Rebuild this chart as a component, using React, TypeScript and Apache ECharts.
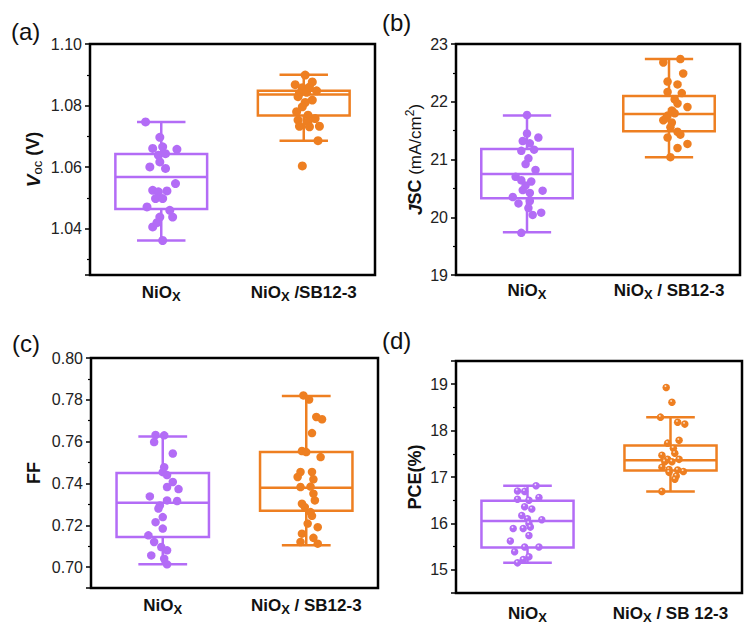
import React, { useEffect, useRef } from 'react';
import * as echarts from 'echarts';

const PURPLE = '#B36CF6';
const ORANGE = '#EE7F21';
const FONT = '"Liberation Sans", Arial, Helvetica, sans-serif';

// box stats: [min, Q1, median, Q3, max] per category (NiOx, NiOx/SB12-3)
const vocBox = [
  [1.0362, 1.0464, 1.0568, 1.0643, 1.0747],
  [1.0686, 1.0768, 1.0836, 1.0848, 1.09],
];
const jscBox = [
  [19.74, 20.33, 20.75, 21.18, 21.76],
  [21.04, 21.49, 21.79, 22.1, 22.74],
];
const ffBox = [
  [0.7013, 0.7144, 0.7308, 0.745, 0.7625],
  [0.7105, 0.727, 0.738, 0.755, 0.7818],
];
const pceBox = [
  [15.15, 15.48, 16.05, 16.49, 16.81],
  [16.69, 17.14, 17.36, 17.68, 18.29],
];

// individual devices (values) and horizontal jitter (category units)
const vocNiOx = [1.0747, 1.0697, 1.0661, 1.0666, 1.0658, 1.0639, 1.0644, 1.0601, 1.0596, 1.0617, 1.0547, 1.0525, 1.052, 1.0523, 1.0498, 1.0498, 1.0471, 1.046, 1.0438, 1.0438, 1.0406, 1.042, 1.0362];
const vocNiOxJit = [-0.11, -0.01, -0.06, 0.01, 0.11, -0.02, 0.03, -0.08, 0.03, -0.01, 0.1, -0.06, -0.02, 0.04, -0.04, 0.01, -0.1, 0.06, -0.01, 0.08, -0.06, -0.03, 0.01];
const vocSB = [1.0899, 1.0877, 1.0868, 1.0858, 1.0848, 1.084, 1.0843, 1.0829, 1.0818, 1.081, 1.0796, 1.078, 1.0769, 1.0758, 1.0753, 1.0747, 1.0733, 1.0731, 1.0733, 1.0686, 1.0604, 1.086];
const vocSBJit = [0.01, 0.06, -0.06, -0.01, 0.09, -0.03, 0.02, -0.04, 0.06, 0.01, -0.01, -0.05, 0.03, 0.08, -0.04, 0.03, -0.03, 0.04, 0.11, 0.1, -0.01, 0.04];

const jscNiOx = [21.77, 21.45, 21.38, 21.32, 21.28, 21.15, 21.17, 21.02, 20.92, 20.82, 20.7, 20.64, 20.62, 20.47, 20.46, 20.42, 20.35, 20.24, 20.28, 20.16, 20.04, 20.08, 19.73, 20.55];
const jscNiOxJit = [0, 0, 0.08, -0.03, 0.02, -0.04, 0.05, 0.01, -0.01, 0.06, -0.08, -0.04, 0.03, -0.03, 0.11, 0.02, -0.1, -0.06, 0.02, 0.01, 0.04, 0.1, -0.04, -0.01];
const jscSB = [22.74, 22.68, 22.49, 22.35, 22.3, 22.17, 22.15, 22.04, 21.97, 21.91, 21.85, 21.8, 21.76, 21.68, 21.64, 21.56, 21.48, 21.43, 21.38, 21.27, 21.2, 21.04, 21.72];
const jscSBJit = [0.08, -0.04, 0.1, -0.01, 0.06, -0.01, 0.09, 0.04, 0.06, 0.13, 0.02, 0.04, -0.01, -0.04, 0.02, 0.01, 0.06, 0.08, -0.01, 0.13, 0.06, 0.01, -0.02];

const ffNiOx = [0.7632, 0.763, 0.7598, 0.7543, 0.7478, 0.7454, 0.744, 0.7407, 0.7383, 0.7373, 0.7338, 0.7319, 0.7316, 0.7295, 0.728, 0.7239, 0.7215, 0.7184, 0.7152, 0.712, 0.7096, 0.708, 0.7056, 0.704, 0.7013];
const ffNiOxJit = [-0.05, 0.01, -0.06, 0.07, 0.01, 0, 0.03, 0.07, 0.03, 0.11, -0.09, 0.03, 0.1, -0.02, -0.03, 0, -0.05, 0, -0.1, -0.06, -0.01, 0.03, -0.08, 0.01, 0.03];
const ffSB = [0.7821, 0.7801, 0.7718, 0.7707, 0.7641, 0.7555, 0.755, 0.7526, 0.7455, 0.7455, 0.7431, 0.742, 0.7383, 0.7385, 0.7351, 0.7319, 0.7303, 0.7287, 0.7263, 0.7245, 0.7208, 0.7191, 0.716, 0.714, 0.712, 0.7112];
const ffSBJit = [-0.02, 0.02, 0.07, 0.11, 0.04, -0.03, 0, 0.1, -0.04, 0.04, -0.06, 0.05, -0.04, 0.03, 0.05, 0.06, -0.03, -0.01, 0.03, 0.04, 0.01, 0.08, -0.03, 0.05, -0.04, 0.08];

const pceNiOx = [16.81, 16.7, 16.69, 16.56, 16.52, 16.5, 16.36, 16.31, 16.17, 16.1, 16.08, 16.0, 15.89, 15.89, 15.92, 15.74, 15.62, 15.49, 15.49, 15.39, 15.28, 15.22, 15.15];
const pceNiOxJit = [0.06, -0.07, -0.02, 0.08, -0.07, 0.01, -0.02, 0.03, -0.04, 0, 0.1, 0.01, -0.1, -0.03, 0.02, 0.01, -0.12, -0.02, 0.08, -0.09, 0.01, -0.03, -0.07];
const pceSB = [18.93, 18.61, 18.29, 18.18, 18.14, 17.73, 17.79, 17.62, 17.47, 17.51, 17.38, 17.38, 17.33, 17.33, 17.21, 17.16, 17.15, 17.12, 17.1, 17.02, 16.95, 16.69];
const pceSBJit = [-0.03, 0.01, -0.07, 0.05, 0.1, -0.02, 0.06, 0.02, -0.06, 0.03, -0.02, 0.06, -0.04, 0.01, -0.06, -0.01, 0.05, 0.09, -0.01, 0.04, 0.03, -0.06];

// category labels (tail after "NiOx")
const labelsA = ['', ' /SB12-3'];
const labelsB = ['', ' / SB12-3'];
const labelsC = ['', ' / SB12-3'];
const labelsD = ['', ' / SB 12-3'];
const categories = ['NiOx', 'NiOx/SB12-3'];

const panelLetters = ['(a)', '(b)', '(c)', '(d)'];

const grids = [
  { left: 90, top: 44, width: 285, height: 231 },
  { left: 456, top: 44, width: 284, height: 231 },
  { left: 91, top: 358, width: 287, height: 230 },
  { left: 456, top: 361, width: 286, height: 234 },
];

function catRich(tail: string) {
  return '{a|NiO}{s|X}' + (tail ? '{a|' + tail + '}' : '');
}

function renderBox(params: any, api: any) {
  const k = api.value(0);
  const pMin = api.coord([k, api.value(1)]);
  const pQ1 = api.coord([k, api.value(2)]);
  const pMed = api.coord([k, api.value(3)]);
  const pQ3 = api.coord([k, api.value(4)]);
  const pMax = api.coord([k, api.value(5)]);
  const band = api.size([1, 0])[0];
  const hb = band * 0.322;
  const hc = band * 0.17;
  const cx = pMed[0];
  const style = { stroke: params.dataIndex === 0 ? PURPLE : ORANGE, lineWidth: 2.5, fill: 'none' };
  return {
    type: 'group',
    children: [
      { type: 'rect', shape: { x: cx - hb, y: pQ3[1], width: 2 * hb, height: pQ1[1] - pQ3[1] }, style },
      { type: 'line', shape: { x1: cx - hb, y1: pMed[1], x2: cx + hb, y2: pMed[1] }, style },
      { type: 'line', shape: { x1: cx, y1: pQ3[1], x2: cx, y2: pMax[1] }, style },
      { type: 'line', shape: { x1: cx, y1: pQ1[1], x2: cx, y2: pMin[1] }, style },
      { type: 'line', shape: { x1: cx - hc, y1: pMax[1], x2: cx + hc, y2: pMax[1] }, style },
      { type: 'line', shape: { x1: cx - hc, y1: pMin[1], x2: cx + hc, y2: pMin[1] }, style },
    ],
  };
}

export default function App() {
  const ref = useRef<HTMLDivElement>(null);
  useEffect(() => {
    if (!ref.current) return;
    const chart = echarts.init(ref.current, undefined, { renderer: 'svg' });

    const shiny = (base: string) =>
      new echarts.graphic.RadialGradient(0.4, 0.33, 0.62, [
        { offset: 0, color: '#ffffff' },
        { offset: 0.3, color: base },
        { offset: 1, color: base },
      ]);

    const nameRich = {
      b: { fontSize: 18, fontWeight: 'bold', fontFamily: FONT, color: '#111', lineHeight: 22 },
      bi: { fontSize: 19, fontWeight: 'bold', fontStyle: 'italic', fontFamily: FONT, color: '#111', lineHeight: 22 },
      n: { fontSize: 17, fontFamily: FONT, color: '#111', lineHeight: 22 },
      sub: { fontSize: 13, fontFamily: FONT, color: '#111', lineHeight: 22, verticalAlign: 'bottom' },
      sup: { fontSize: 12, fontFamily: FONT, color: '#111', lineHeight: 22, verticalAlign: 'top' },
    };

    const yCfg = [
      { min: 1.025, max: 1.1, splitNumber: 4, fmt: (v: number) => v.toFixed(2), name: '{bi|V}{sub|oc}{b| (V)}', gap: 46, showMin: false, showMax: true },
      { min: 19, max: 23, interval: 1, fmt: (v: number) => String(Math.round(v)), name: '{bi|J}{b|SC}{n| (mA/cm}{sup|2}{n|)}', gap: 30, showMin: true, showMax: true },
      { min: 0.69, max: 0.8, splitNumber: 5, fmt: (v: number) => v.toFixed(2), name: '{b|FF}', gap: 46, showMin: false, showMax: true },
      { min: 14.5, max: 19.5, splitNumber: 5, fmt: (v: number) => String(Math.round(v)), name: '{b|PCE(%)}', gap: 30, showMin: false, showMax: false },
    ];
    const catTails = [labelsA, labelsB, labelsC, labelsD];
    const catMargins = [7, 5, 7, 10];

    const boxes = [vocBox, jscBox, ffBox, pceBox];
    const pts = [
      [vocNiOx, vocNiOxJit, vocSB, vocSBJit],
      [jscNiOx, jscNiOxJit, jscSB, jscSBJit],
      [ffNiOx, ffNiOxJit, ffSB, ffSBJit],
      [pceNiOx, pceNiOxJit, pceSB, pceSBJit],
    ];
    const symSizes = [9, 8.5, 8.5, 7.5];

    const xAxis: any[] = [];
    const yAxis: any[] = [];
    const series: any[] = [];

    grids.forEach((_, i) => {
      xAxis.push({
        type: 'category',
        gridIndex: i,
        data: categories,
        axisLine: { show: false, onZero: false },
        axisTick: { show: false },
        splitLine: { show: false },
        axisLabel: {
          margin: catMargins[i],
          interval: 0,
          formatter: (_v: string, idx: number) => catRich(catTails[i][idx]),
          rich: {
            a: { fontSize: 17, fontWeight: 'bold', fontFamily: FONT, color: '#111', lineHeight: 21 },
            s: { fontSize: 13, fontWeight: 'bold', fontFamily: FONT, color: '#111', lineHeight: 21, verticalAlign: 'bottom' },
          },
        },
      });
    });
    grids.forEach((_, i) => {
      xAxis.push({ type: 'value', gridIndex: i, min: -0.5, max: 1.5, show: false, axisLine: { onZero: false } });
    });

    yCfg.forEach((c, i) => {
      const y: any = {
        type: 'value',
        gridIndex: i,
        position: 'left',
        min: c.min,
        max: c.max,
        axisLine: { show: false, onZero: false },
        axisTick: { show: true, length: 5, lineStyle: { color: '#000', width: 1.5 } },
        minorTick: { show: true, splitNumber: 2, length: 3, lineStyle: { color: '#000', width: 1.2 } },
        splitLine: { show: false },
        minorSplitLine: { show: false },
        axisLabel: {
          fontSize: 16,
          color: '#222',
          fontFamily: FONT,
          margin: 8,
          formatter: c.fmt,
          showMinLabel: c.showMin,
          showMaxLabel: c.showMax,
        },
        name: c.name,
        nameLocation: 'middle',
        nameRotate: 90,
        nameGap: c.gap,
        nameTextStyle: { rich: nameRich },
      };
      if ((c as any).interval) y.interval = (c as any).interval;
      if ((c as any).splitNumber) y.splitNumber = (c as any).splitNumber;
      yAxis.push(y);

      series.push({
        type: 'custom',
        xAxisIndex: i,
        yAxisIndex: i,
        renderItem: renderBox,
        encode: { x: 0, y: [1, 2, 3, 4, 5] },
        data: boxes[i].map((b, k) => [k, ...b]),
        z: 2,
        silent: true,
      });
      const [v0, j0, v1, j1] = pts[i];
      series.push({
        type: 'scatter',
        xAxisIndex: 4 + i,
        yAxisIndex: i,
        symbolSize: symSizes[i],
        itemStyle: { color: i === 3 ? shiny(PURPLE) : PURPLE, opacity: 1 },
        data: v0.map((v, j) => [0 + j0[j], v]),
        z: 5,
      });
      series.push({
        type: 'scatter',
        xAxisIndex: 4 + i,
        yAxisIndex: i,
        symbolSize: symSizes[i],
        itemStyle: { color: i === 3 ? shiny(ORANGE) : ORANGE, opacity: 1 },
        data: v1.map((v, j) => [1 + j1[j], v]),
        z: 5,
      });
    });

    const letterPos = [
      [11, 31],
      [382, 22],
      [12, 343],
      [382, 340],
    ];

    chart.setOption({
      animation: false,
      backgroundColor: '#fff',
      grid: grids.map((g) => ({ ...g, show: true, borderColor: '#000', borderWidth: 2.5, backgroundColor: 'transparent' })),
      xAxis,
      yAxis,
      series,
      graphic: panelLetters.map((t, i) => ({
        type: 'text',
        x: letterPos[i][0],
        y: letterPos[i][1],
        style: { text: t, fontSize: 24, fontFamily: FONT, fill: '#111', verticalAlign: 'middle', align: 'left' },
      })),
    });
    return () => chart.dispose();
  }, []);
  return <div ref={ref} style={{ position: 'absolute', left: 0, top: 0, width: 745, height: 624 }} />;
}
